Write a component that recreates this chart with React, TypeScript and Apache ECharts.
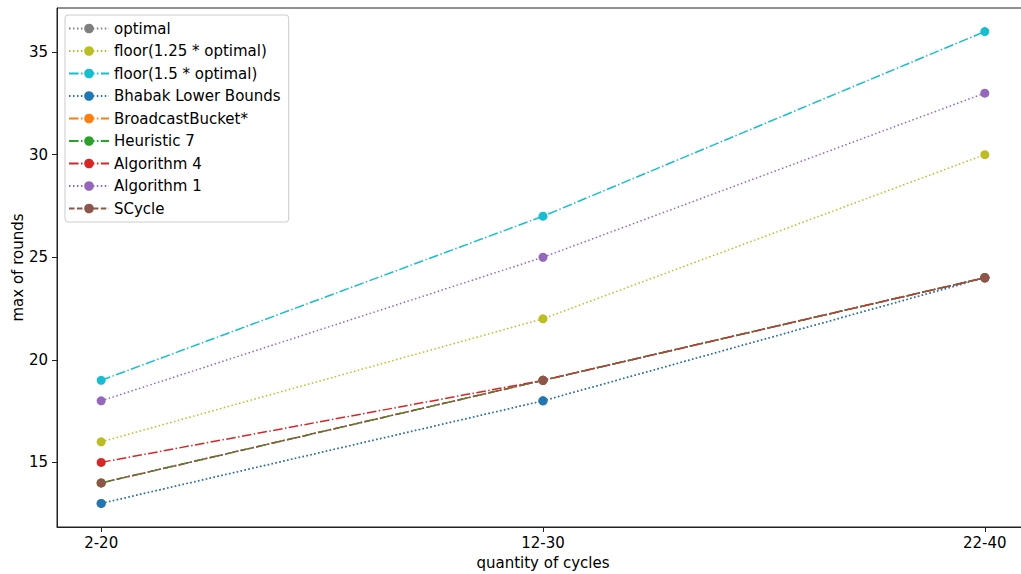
import React, { useEffect, useRef } from "react";
import * as echarts from "echarts";

const categories = ["2-20", "12-30", "22-40"];
const yTicks = [15, 20, 25, 30, 35];

const optimal = [13, 18, 24];
const floor125 = [16, 22, 30];
const floor15 = [19, 27, 36];
const bhabak = [13, 18, 24];
const broadcastBucket = [14, 19, 24];
const heuristic7 = [14, 19, 24];
const algorithm4 = [15, 19, 24];
const algorithm1 = [18, 25, 33];
const scycle = [14, 19, 24];

const DOT = [1.5, 2.475];
const DASH = [5.55, 2.4];
const DASHDOT = [9.6, 2.4, 1.5, 2.4];

const seriesDefs = [
  { name: "optimal", data: optimal, color: "#7f7f7f", dash: DOT },
  { name: "floor(1.25 * optimal)", data: floor125, color: "#bcbd22", dash: DOT },
  { name: "floor(1.5 * optimal)", data: floor15, color: "#17becf", dash: DASHDOT },
  { name: "Bhabak Lower Bounds", data: bhabak, color: "#1f77b4", dash: DOT },
  { name: "BroadcastBucket*", data: broadcastBucket, color: "#ff7f0e", dash: DASHDOT },
  { name: "Heuristic 7", data: heuristic7, color: "#2ca02c", dash: DASHDOT },
  { name: "Algorithm 4", data: algorithm4, color: "#d62728", dash: DASHDOT },
  { name: "Algorithm 1", data: algorithm1, color: "#9467bd", dash: DOT },
  { name: "SCycle", data: scycle, color: "#8c564b", dash: DASH },
];

const FONT = "DejaVu Sans";

export default function App() {
  const ref = useRef<HTMLDivElement>(null);
  useEffect(() => {
    const chart = echarts.init(ref.current!, null, { renderer: "svg" });
    chart.setOption({
      animation: false,
      textStyle: { fontFamily: FONT },
      grid: {
        left: 57,
        top: 8,
        width: 972,
        height: 519,
        outerBoundsMode: "none",
        containLabel: false,
        show: true,
        borderColor: "#222",
        borderWidth: 1,
        backgroundColor: "transparent",
      },
      legend: {
        orient: "vertical",
        left: 65,
        top: 15,
        padding: [6, 8, 6, 3],
        itemWidth: 40,
        itemHeight: 12,
        itemGap: 7.5,
        backgroundColor: "#fff",
        borderColor: "#ccc",
        borderWidth: 1,
        borderRadius: 3,
        textStyle: { fontFamily: FONT, fontSize: 15, color: "#000" },
        data: seriesDefs.map((s) => s.name),
      },
      xAxis: {
        type: "value",
        min: -0.1,
        max: 2.1,
        name: "quantity of cycles",
        nameLocation: "middle",
        nameGap: 28,
        nameMoveOverlap: false,
        nameTextStyle: { fontFamily: FONT, fontSize: 15, color: "#000" },
        axisLine: { show: true, onZero: false, lineStyle: { color: "#222", width: 1 } },
        axisTick: { show: true, length: 5, customValues: [0, 1, 2], lineStyle: { color: "#222" } },
        axisLabel: {
          customValues: [0, 1, 2],
          formatter: (v: number) => categories[Math.round(v)],
          fontFamily: FONT,
          fontSize: 15,
          color: "#000",
          margin: 8,
        },
        splitLine: { show: false },
      },
      yAxis: {
        type: "value",
        min: 11.85,
        max: 37.15,
        name: "max of rounds",
        nameLocation: "middle",
        nameGap: 32,
        nameMoveOverlap: false,
        nameRotate: 90,
        nameTextStyle: { fontFamily: FONT, fontSize: 15, color: "#000" },
        axisLine: { show: true, onZero: false, lineStyle: { color: "#222", width: 1 } },
        axisTick: { show: true, length: 5, customValues: yTicks, lineStyle: { color: "#222" } },
        axisLabel: {
          customValues: yTicks,
          fontFamily: FONT,
          fontSize: 15,
          color: "#000",
          margin: 9,
        },
        splitLine: { show: false },
      },
      series: seriesDefs.map((s) => ({
        name: s.name,
        type: "line",
        data: s.data.map((v, i) => [i, v]),
        symbol: "circle",
        symbolSize: 9,
        showSymbol: true,
        color: s.color,
        itemStyle: { color: s.color },
        lineStyle: { color: s.color, width: 1.5, type: s.dash, cap: "butt" },
      })),
    });
    return () => chart.dispose();
  }, []);
  return (
    <div
      ref={ref}
      style={{ position: "fixed", left: 0, top: 0, width: 1021, height: 574, background: "#fff" }}
    />
  );
}
